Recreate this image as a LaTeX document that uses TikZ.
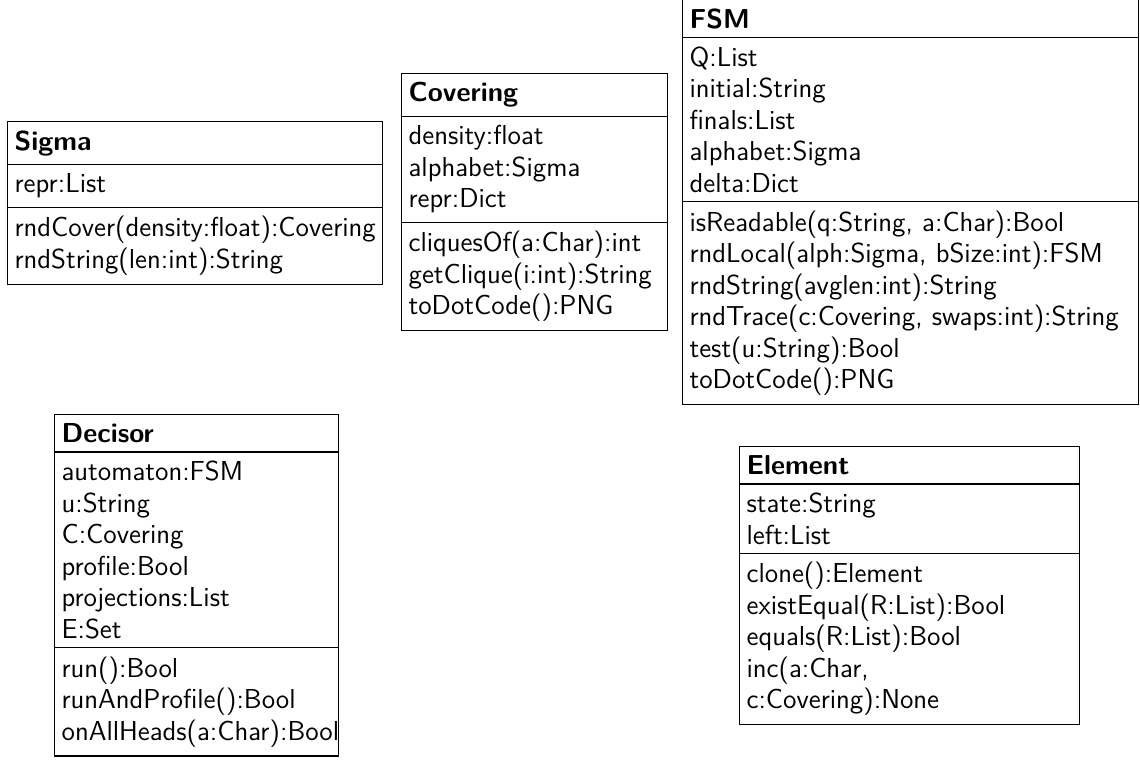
\documentclass[tikz,border=0pt]{standalone}
\usetikzlibrary{shapes.multipart}

\tikzset{
  umlclass/.style={rectangle split, rectangle split parts=3, draw, line width=.6pt,
    anchor=north west, align=left, inner xsep=3.5pt, inner ysep=4.2pt,
    font=\fontsize{13.7}{15.75}\selectfont\sffamily},
}

\begin{document}
\begin{tikzpicture}[x=.5pt, y=-.5pt]
	\useasboundingbox (0,0) rectangle (1140,760);
	\node[umlclass, text width=180.5pt] (sigma) at (7,121) {\textbf{Sigma}
		\nodepart{two} repr:List
		\nodepart{three} rndCover(density:float):Covering\\ rndString(len:int):String};
	\node[umlclass, text width=126pt] (covering) at (401,73) {\textbf{Covering}
		\nodepart{two} density:float\\ alphabet:Sigma\\ repr:Dict
		\nodepart{three} cliquesOf(a:Char):int\\ getClique(i:int):String\\ toDotCode():PNG};
	\node[umlclass, text width=221pt] (fsm) at (682,-1) {\textbf{FSM}
		\nodepart{two} Q:List\\ initial:String\\ finals:List\\ alphabet:Sigma\\ delta:Dict
		\nodepart{three} isReadable(q:String, a:Char):Bool\\ rndLocal(alph:Sigma, bSize:int):FSM\\
			rndString(avglen:int):String\\ rndTrace(c:Covering, swaps:int):String\\
			test(u:String):Bool\\ toDotCode():PNG};
	\node[umlclass, text width=135pt] (decisor) at (54,414) {\textbf{Decisor}
		\nodepart{two} automaton:FSM\\ u:String\\ C:Covering\\ profile:Bool\\ projections:List\\ E:Set
		\nodepart{three} run():Bool\\ runAndProfile():Bool\\ onAllHeads(a:Char):Bool};
	\node[umlclass, text width=163pt] (element) at (739,446) {\textbf{Element}
		\nodepart{two} state:String\\ left:List
		\nodepart{three} clone():Element\\ existEqual(R:List):Bool\\ equals(R:List):Bool\\
			inc(a:Char,\\ c:Covering):None};
\end{tikzpicture}
\end{document}
